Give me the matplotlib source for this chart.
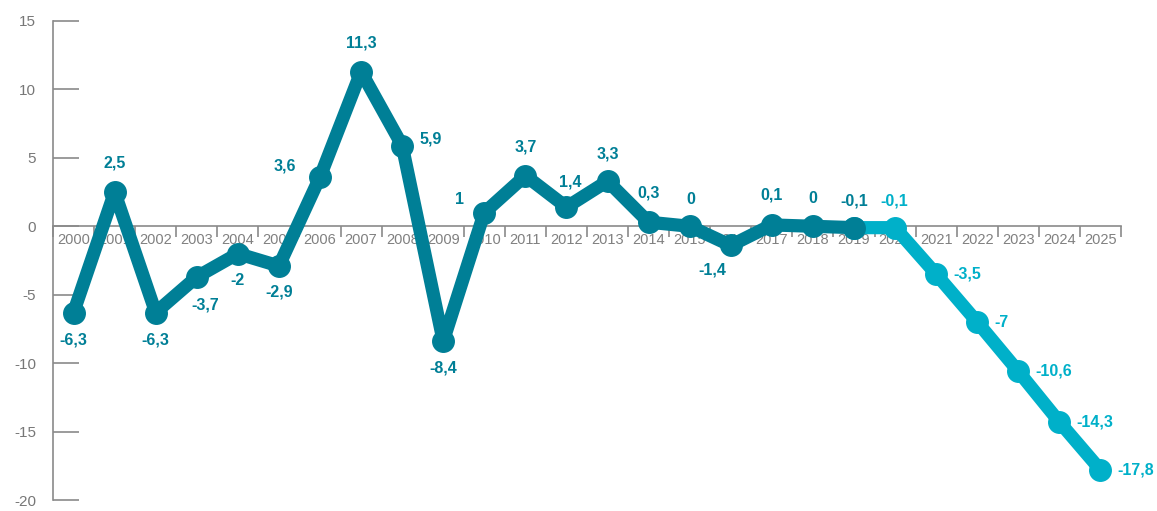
import numpy as np
import matplotlib.pyplot as plt

years = [str(y) for y in range(2000, 2026)]
actual = [-6.3, 2.5, -6.3, -3.7, -2, -2.9, 3.6, 11.3, 5.9, -8.4, 1, 3.7, 1.4,
          3.3, 0.3, 0, -1.4, 0.1, 0, -0.1]
forecast = [-0.1, -0.1, -3.5, -7, -10.6, -14.3, -17.8]   # 2019 .. 2025

dark = '#007f96'
light = '#00b0c9'
grey = '#8a8a8a'

plt.rcParams['font.family'] = ['Liberation Sans', 'DejaVu Sans']
plt.rcParams['axes.unicode_minus'] = False

fig = plt.figure(figsize=(11.57, 5.11), dpi=100)
ax = fig.add_axes([53 / 1157, 1 - 500 / 511, (1121 - 53) / 1157, 479 / 511])

x_act = np.arange(len(actual))
x_fc = np.arange(len(actual) - 1, len(years))

ax.plot(x_fc, forecast, color=light, lw=9.5, marker='o', ms=15.5,
        solid_joinstyle='round', zorder=3, clip_on=False)
ax.plot(x_act, actual, color=dark, lw=9.5, marker='o', ms=15.5,
        solid_joinstyle='round', zorder=4, clip_on=False)

# label offsets in pixels (dx, dy)
offs = [(0, -27), (0, 29), (0, -27), (8, -28), (0, -27), (0, -26), (-35, 11),
        (0, 29), (29, 7), (0, -27), (-25, 13), (0, 29), (4, 25), (0, 27),
        (0, 29), (1, 27), (-18, -25), (0, 30), (0, 28), (0, 27)]

def fmt(v):
    return ('%g' % v).replace('.', ',')

for i, v in enumerate(actual):
    dx, dy = offs[i]
    ax.annotate(fmt(v), (x_act[i], v), xytext=(dx, dy), textcoords='offset pixels',
                ha='center', va='center', color=dark, fontsize=11.5,
                fontweight='bold', zorder=5)

ax.annotate(fmt(forecast[1]), (x_fc[1], forecast[1]), xytext=(-1, 27),
            textcoords='offset pixels', ha='center', va='center', color=light,
            fontsize=11.5, fontweight='bold', zorder=5)
for i in range(2, len(forecast)):
    ax.annotate(fmt(forecast[i]), (x_fc[i], forecast[i]), xytext=(17, 0),
                textcoords='offset pixels', ha='left', va='center', color=light,
                fontsize=11.5, fontweight='bold', zorder=5)

ax.set_xlim(-0.5, len(years) - 0.5)
ax.set_ylim(-20, 15)

for s in ['top', 'right']:
    ax.spines[s].set_visible(False)
ax.spines['bottom'].set_position(('data', 0))
ax.spines['bottom'].set_color(grey)
ax.spines['left'].set_color(grey)
ax.spines['bottom'].set_linewidth(1.2)
ax.spines['left'].set_linewidth(1.2)

ax.set_yticks(np.arange(-20, 16, 5))
ax.tick_params(axis='y', direction='in', length=19, width=1.2, color=grey,
               labelcolor='#777777', labelsize=11, pad=12)

ax.set_xticks(np.arange(len(years)))
ax.set_xticklabels(years)
ax.set_xticks(np.arange(-0.5, len(years)), minor=True)
ax.tick_params(axis='x', which='major', length=0, labelcolor='#808080',
               labelsize=10.5, pad=5)
ax.tick_params(axis='x', which='minor', direction='out', length=8, width=1.2,
               color=grey)

fig.savefig('out.png', dpi=100)
